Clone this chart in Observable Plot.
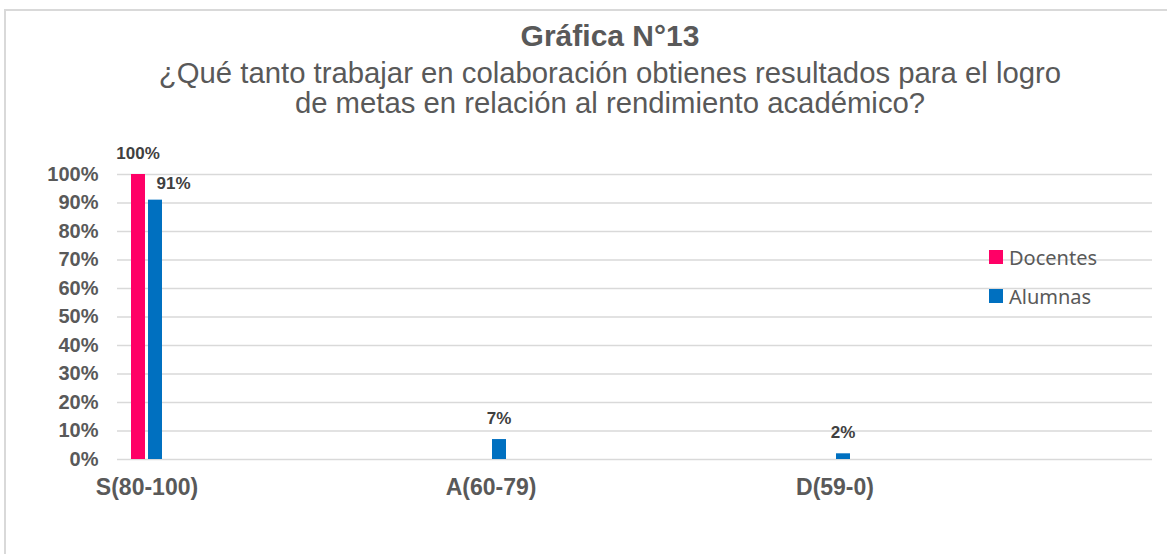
<!DOCTYPE html>
<html>
<head>
<meta charset="utf-8">
<script src="https://cdn.jsdelivr.net/npm/d3@7"></script>
<script src="https://cdn.jsdelivr.net/npm/@observablehq/plot@0.6"></script>
<style>
  html, body { margin: 0; padding: 0; background: #fff; }
  body { width: 1167px; height: 554px; overflow: hidden; position: relative; font-family: "Liberation Sans", Arial, sans-serif; }
  #frame { position: absolute; left: 4px; top: 9px; width: 1400px; height: 800px; border: 2px solid #d9d9d9; box-sizing: border-box; }
  #title { position: absolute; left: 0; width: 1220px; top: 21px; text-align: center; font: bold 30px/30px "Liberation Sans", Arial, sans-serif; color: #595959; }
  #subtitle { position: absolute; left: 0; width: 1220px; top: 58px; text-align: center; font: 29.3px/30px "Liberation Sans", Arial, sans-serif; color: #595959; }
  #chart { position: absolute; left: 0; top: 140px; }
  .leg { position: absolute; left: 989px; display: flex; align-items: center; height: 20px; font: 20px "Noto Sans", sans-serif; color: #595959; }
  .leg span.sw { display: inline-block; width: 14px; height: 14px; margin-right: 6px; }
  g[aria-label^="y-axis"] text { font: bold 20px "Liberation Sans", Arial, sans-serif; fill: #595959; }
  g[aria-label^="x-axis"] text { font: bold 23px "Liberation Sans", Arial, sans-serif; fill: #595959; }
</style>
</head>
<body>
<div id="frame"></div>
<div id="title">Gráfica N°13</div>
<div id="subtitle">¿Qué tanto trabajar en colaboración obtienes resultados para el logro<br>de metas en relación al rendimiento académico?</div>
<div id="chart"></div>
<div id="legend"></div>
<script>
const categories = ["S(80-100)", "A(60-79)", "D(59-0)"];
const seriesNames = ["Docentes", "Alumnas"];
const seriesColors = ["#FF0066", "#0070C0"];
const docentes = [1.00, 0, 0];
const alumnas = [0.91, 0.07, 0.02];
const yTicks = [0, 0.1, 0.2, 0.3, 0.4, 0.5, 0.6, 0.7, 0.8, 0.9, 1.0];

const docData = categories.map((c, i) => ({cat: c, value: docentes[i], other: alumnas[i]}));
const aluData = categories.map((c, i) => ({cat: c, value: alumnas[i], other: docentes[i]}));
const pct = d3.format(".0%");

const chart = Plot.plot({
  width: 1167,
  height: 414,
  marginTop: 34,
  marginBottom: 95,
  marginLeft: 117,
  marginRight: 15,
  style: {fontFamily: "'Liberation Sans', Arial, sans-serif", background: "transparent"},
  x: {type: "band", domain: categories, range: [131, 852], paddingInner: 0.9101, paddingOuter: 0, align: 0, tickSize: 0, tickPadding: 19, label: null},
  y: {domain: [0, 1], ticks: yTicks, tickFormat: pct, tickSize: 0, tickPadding: 19, label: null},
  marks: [
    Plot.ruleY(yTicks, {stroke: "#d9d9d9", strokeWidth: 1.5}),
    Plot.barY(docData, {x: "cat", y: "value", fill: seriesColors[0], insetRight: 17}),
    Plot.barY(aluData, {x: "cat", y: "value", fill: seriesColors[1], insetLeft: 17}),
    Plot.text(docData.filter(d => d.value > 0), {x: "cat", y: "value", text: d => pct(d.value), dx: -9, dy: -21, fontWeight: "bold", fontSize: 17, fill: "#404040"}),
    Plot.text(aluData.filter(d => d.value > 0 && d.other <= d.value), {x: "cat", y: "value", text: d => pct(d.value), dx: 8, dy: -21, fontWeight: "bold", fontSize: 17, fill: "#404040"}),
    Plot.text(aluData.filter(d => d.value > 0 && d.other > d.value), {x: "cat", y: "value", text: d => pct(d.value), dx: 26.5, dy: -17, fontWeight: "bold", fontSize: 17, fill: "#404040"})
  ]
});
document.getElementById("chart").appendChild(chart);

const legend = document.getElementById("legend");
const legTops = [247, 286];
seriesNames.forEach((name, i) => {
  const item = document.createElement("div");
  item.className = "leg";
  item.style.top = legTops[i] + "px";
  const sw = document.createElement("span");
  sw.className = "sw";
  sw.style.background = seriesColors[i];
  item.appendChild(sw);
  item.appendChild(document.createTextNode(name));
  legend.appendChild(item);
});
</script>
</body>
</html>
